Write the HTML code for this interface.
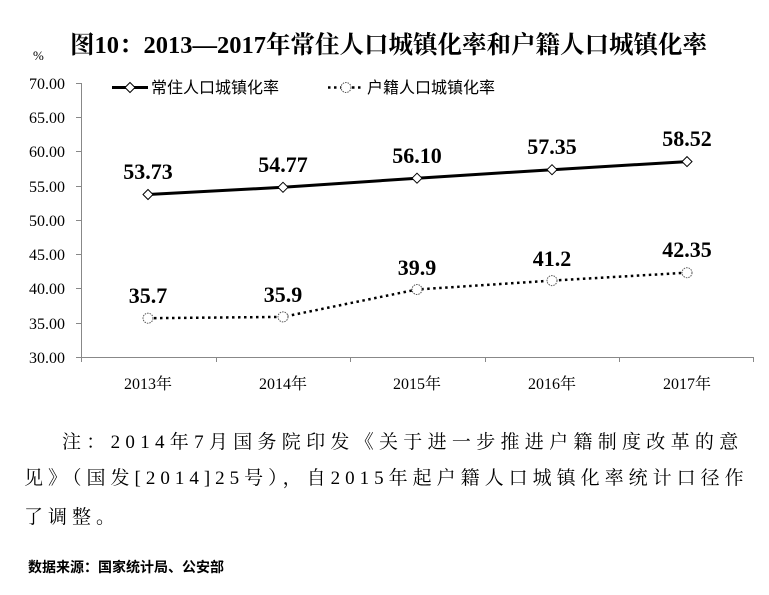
<!DOCTYPE html>
<html><head><meta charset="utf-8"><style>
body{margin:0;background:#fff;width:769px;height:595px;overflow:hidden;position:relative}
.t{position:absolute;white-space:nowrap}
.note{font-family:"Liberation Serif","Noto Serif CJK SC",serif;font-size:19px;color:#000}
</style></head><body>
<div class="t" style="left:0;width:769px;text-align:center;top:26px;font-family:'Liberation Serif','Noto Serif CJK SC',serif;font-weight:bold;font-size:24.5px;padding-left:8px;box-sizing:border-box">图10：2013—2017年常住人口城镇化率和户籍人口城镇化率</div>
<svg width="769" height="420" style="position:absolute;left:0;top:0" font-family="Liberation Serif, serif">
<text x="33" y="60" font-size="13">%</text>
<g font-size="16" text-anchor="end">
<text x="65" y="89">70.00</text><text x="65" y="123">65.00</text><text x="65" y="157">60.00</text><text x="65" y="192">55.00</text><text x="65" y="226">50.00</text><text x="65" y="260">45.00</text><text x="65" y="294">40.00</text><text x="65" y="329">35.00</text><text x="65" y="363">30.00</text>
</g>
<g stroke="#888" stroke-width="1">
<line x1="81.5" y1="83" x2="81.5" y2="362"/>
<line x1="76" y1="357.5" x2="754" y2="357.5"/>
<line x1="76" y1="83.5" x2="81" y2="83.5"/><line x1="76" y1="117.5" x2="81" y2="117.5"/><line x1="76" y1="151.5" x2="81" y2="151.5"/><line x1="76" y1="186.5" x2="81" y2="186.5"/><line x1="76" y1="220.5" x2="81" y2="220.5"/><line x1="76" y1="254.5" x2="81" y2="254.5"/><line x1="76" y1="288.5" x2="81" y2="288.5"/><line x1="76" y1="323.5" x2="81" y2="323.5"/>
<line x1="216.5" y1="357" x2="216.5" y2="362"/><line x1="350.5" y1="357" x2="350.5" y2="362"/><line x1="485.5" y1="357" x2="485.5" y2="362"/><line x1="619.5" y1="357" x2="619.5" y2="362"/><line x1="753.5" y1="357" x2="753.5" y2="362"/>
</g>
<g font-size="16" text-anchor="middle" font-family="Liberation Serif, Noto Serif CJK SC, serif">
<text x="148" y="389">2013年</text><text x="283" y="389">2014年</text><text x="417" y="389">2015年</text><text x="552" y="389">2016年</text><text x="687" y="389">2017年</text>
</g>
<polyline points="148,194.5 283,187.3 417,178.2 552,169.7 687,161.6" fill="none" stroke="#000" stroke-width="3"/>
<polyline points="148,318.2 283,316.9 417,289.5 552,280.6 687,272.7" fill="none" stroke="#000" stroke-width="2.5" stroke-dasharray="2.5,3.5"/>
<g fill="#fff" stroke="#000" stroke-width="1">
<path d="M148,189.5l5,5l-5,5l-5,-5z"/><path d="M283,182.3l5,5l-5,5l-5,-5z"/><path d="M417,173.2l5,5l-5,5l-5,-5z"/><path d="M552,164.7l5,5l-5,5l-5,-5z"/><path d="M687,156.6l5,5l-5,5l-5,-5z"/>
</g>
<g fill="#fff" stroke="#555" stroke-width="1" stroke-dasharray="1.5,1">
<circle cx="148" cy="318.2" r="5"/><circle cx="283" cy="316.9" r="5"/><circle cx="417" cy="289.5" r="5"/><circle cx="552" cy="280.6" r="5"/><circle cx="687" cy="272.7" r="5"/>
</g>
<g font-size="22" font-weight="bold" text-anchor="middle">
<text x="148" y="179">53.73</text><text x="283" y="172">54.77</text><text x="417" y="163">56.10</text><text x="552" y="154">57.35</text><text x="687" y="146">58.52</text>
<text x="148" y="303">35.7</text><text x="283" y="302">35.9</text><text x="417" y="275">39.9</text><text x="552" y="266">41.2</text><text x="687" y="257">42.35</text>
</g>
<line x1="112" y1="87.5" x2="148" y2="87.5" stroke="#000" stroke-width="3"/>
<path d="M130,82.5l5,5l-5,5l-5,-5z" fill="#fff" stroke="#000"/>
<line x1="328" y1="87.5" x2="364" y2="87.5" stroke="#000" stroke-width="2.5" stroke-dasharray="2.5,3.5"/>
<circle cx="346" cy="87.5" r="5" fill="#fff" stroke="#555" stroke-dasharray="1.5,1"/>
<g font-size="16" font-family="Liberation Sans, Noto Sans CJK SC, sans-serif">
<text x="151" y="93">常住人口城镇化率</text><text x="367" y="93">户籍人口城镇化率</text>
</g>
</svg>
<div class="t note" style="left:62px;top:427px;letter-spacing:5.3px">注：2014年7月国务院印发《关于进一步推进户籍制度改革的意</div>
<div class="t note" style="left:24px;top:463px;letter-spacing:5px">见》（国发[2014]25号），自2015年起户籍人口城镇化率统计口径作</div>
<div class="t note" style="left:24px;top:502px;letter-spacing:5px">了调整。</div>
<div class="t" style="left:28px;top:557px;font-family:'Liberation Sans','Noto Sans CJK SC',sans-serif;font-weight:bold;font-size:14px">数据来源：国家统计局、公安部</div>
</body></html>
